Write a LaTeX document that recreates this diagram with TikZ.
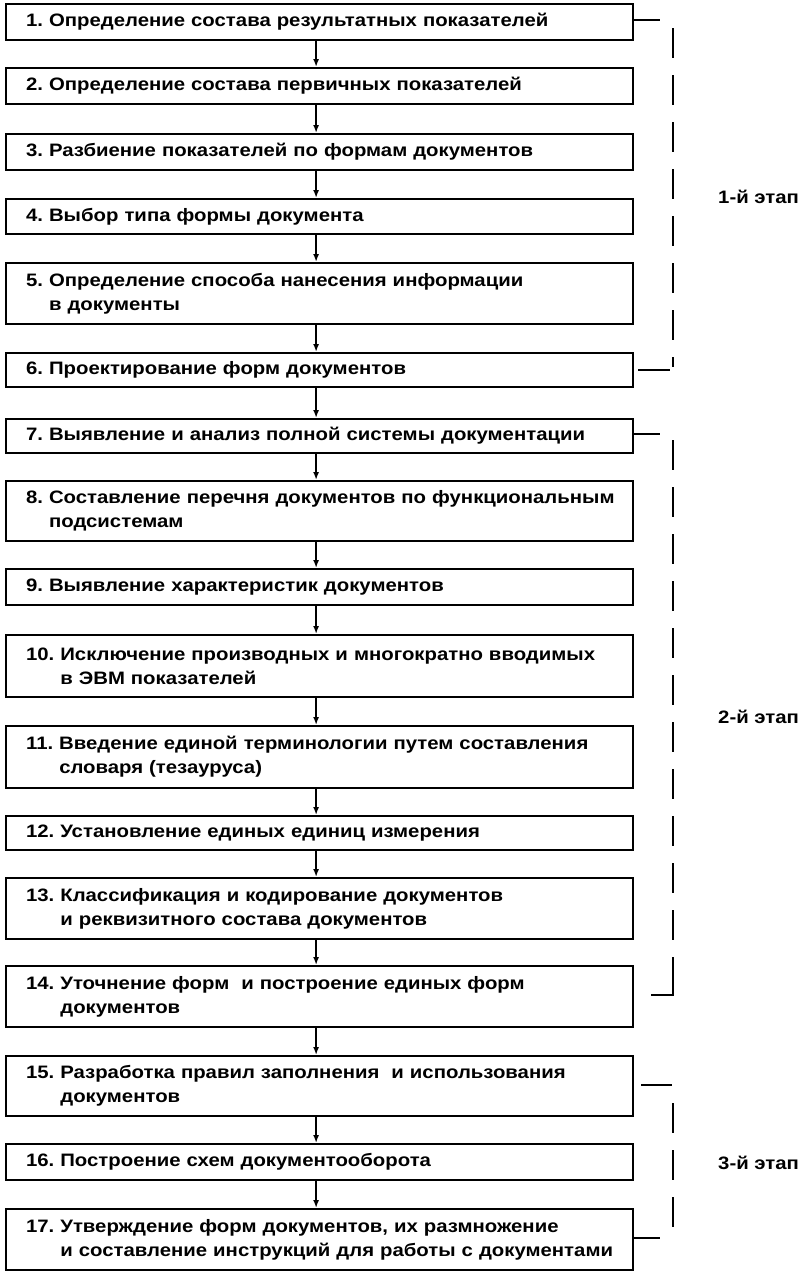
\documentclass[tikz,border=0pt]{standalone}
\usepackage{fontspec}
\setmainfont{Liberation Sans}
\newfontfamily\boxfont[FakeStretch=1.13]{Liberation Sans}
\usetikzlibrary{arrows.meta,calc}
\begin{document}
\frenchspacing
\begin{tikzpicture}[x=1pt,y=-1pt,
  stepbox/.style={draw,line width=2.2pt,anchor=north west,minimum width=627pt,
    text width=627pt,align=left,inner xsep=0pt,
    font=\boxfont\fontsize{18}{24}\selectfont\bfseries},
  flow/.style={line width=1.6pt,-{Latex[length=8pt,width=6pt]}},
  bracket/.style={line width=2pt,dash pattern=on 30pt off 17pt},
  tick/.style={line width=2pt},
  stage/.style={anchor=west,font=\boxfont\fontsize{18}{20}\selectfont\bfseries,inner sep=0pt}]
\useasboundingbox (0,0) rectangle (800,1272);
\newcommand{\bx}[4]{\node[stepbox,minimum height=#3pt] (#1) at (5,#2) {\hspace*{20pt}#4};}
\bx{b1}{3}{36}{1. Определение состава результатных показателей}
\bx{b2}{67}{36}{2. Определение состава первичных показателей}
\bx{b3}{133}{36}{3. Разбиение показателей по формам документов}
\bx{b4}{198}{35}{4. Выбор типа формы документа}
\bx{b5}{262}{61}{5. Определение способа нанесения информации\\\hspace*{20pt}\phantom{5. }в документы}
\bx{b6}{352}{34}{6. Проектирование форм документов}
\bx{b7}{418}{34}{7. Выявление и анализ полной системы документации}
\bx{b8}{480}{60}{8. Составление перечня документов по функциональным\\\hspace*{20pt}\phantom{8. }подсистемам}
\bx{b9}{568}{36}{9. Выявление характеристик документов}
\bx{b10}{634}{62}{10. Исключение производных и многократно вводимых\\\hspace*{20pt}\phantom{10. }в ЭВМ показателей}
\bx{b11}{725}{62}{11. Введение единой терминологии путем составления\\\hspace*{20pt}\phantom{11. }словаря (тезауруса)}
\bx{b12}{815}{34}{12. Установление единых единиц измерения}
\bx{b13}{877}{61}{13. Классификация и кодирование документов\\\hspace*{20pt}\phantom{13. }и реквизитного состава документов}
\bx{b14}{965}{61}{14. Уточнение форм\ \ и построение единых форм\\\hspace*{20pt}\phantom{14. }документов}
\bx{b15}{1055}{60}{15. Разработка правил заполнения\ \ и использования\\\hspace*{20pt}\phantom{15. }документов}
\bx{b16}{1143}{36}{16. Построение схем документооборота}
\bx{b17}{1208}{61}{17. Утверждение форм документов, их размножение\\\hspace*{20pt}\phantom{17. }и составление инструкций для работы с документами}
\foreach \a/\b in {b1/b2,b2/b3,b3/b4,b4/b5,b5/b6,b6/b7,b7/b8,b8/b9,b9/b10,b10/b11,b11/b12,b12/b13,b13/b14,b14/b15,b15/b16,b16/b17}
  \draw[flow] ([xshift=-3.5pt]\a.south) -- ([xshift=-3.5pt]\b.north);
% stage 1
\coordinate (s1a) at (660,20); \coordinate (s1b) at (673,28); \coordinate (s1c) at (673,367);
\coordinate (s1d) at (638,370); \coordinate (s1e) at (670,370);
\draw[tick] (b1.east |- s1a) -- (s1a);
\draw[bracket] (s1b) -- (s1c);
\draw[tick] (s1d) -- (s1e);
\node[stage] (st1) at (718,197) {1-й этап};
% stage 2
\coordinate (s2a) at (660,434); \coordinate (s2b) at (673,440); \coordinate (s2c) at (673,984);
\coordinate (s2d) at (673,995); \coordinate (s2e) at (651,995);
\draw[tick] (b7.east |- s2a) -- (s2a);
\draw[bracket] (s2b) -- (s2c);
\draw[tick] (s2c) -- (s2d) -- (s2e);
\node[stage] (st2) at (718,717) {2-й этап};
% stage 3
\coordinate (s3a) at (641,1085); \coordinate (s3b) at (672,1085); \coordinate (s3c) at (673,1103);
\coordinate (s3d) at (673,1236); \coordinate (s3e) at (660,1238);
\draw[tick] (s3a) -- (s3b);
\draw[bracket] (s3c) -- (s3d);
\draw[tick] (b17.east |- s3e) -- (s3e);
\node[stage] (st3) at (718,1163) {3-й этап};
\end{tikzpicture}
\end{document}
